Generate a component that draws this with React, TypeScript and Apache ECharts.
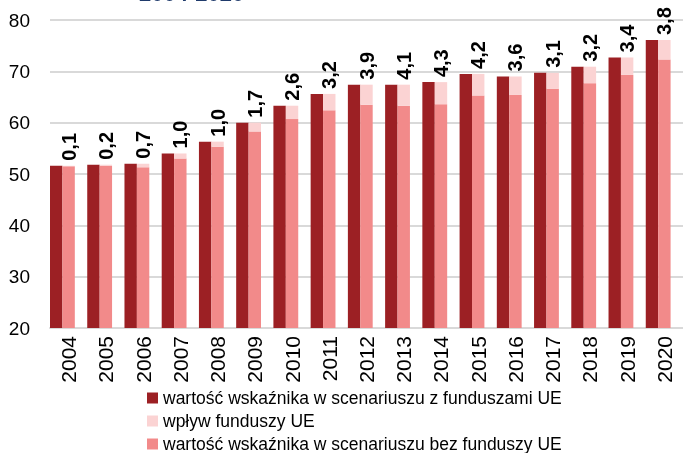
import React, { useEffect, useRef } from "react";
import * as echarts from "echarts";

const years = ["2004","2005","2006","2007","2008","2009","2010","2011","2012","2013","2014","2015","2016","2017","2018","2019","2020"];
const withFunds = [51.6, 51.8, 52.0, 54.0, 56.3, 60.0, 63.3, 65.6, 67.4, 67.4, 67.9, 69.5, 69.0, 69.7, 70.9, 72.7, 76.1];
const impact = [0.1, 0.2, 0.7, 1.0, 1.0, 1.7, 2.6, 3.2, 3.9, 4.1, 4.3, 4.2, 3.6, 3.1, 3.2, 3.4, 3.8];
const withoutFunds = withFunds.map((v, i) => +(v - impact[i]).toFixed(1));
const yTicks = { min: 20, max: 80, interval: 10 };

const names = [
  "wartość wskaźnika w scenariuszu z funduszami UE",
  "wpływ funduszy UE",
  "wartość wskaźnika w scenariuszu bez funduszy UE",
];
const colors = { dark: "#9C2024", pale: "#FBD3D3", salmon: "#F28A8A" };
const FONT = "'Liberation Sans Narrow', 'Arial Narrow', 'Liberation Sans', Arial, sans-serif";

const legendTops = [389, 412, 435];

export default function App() {
  const ref = useRef<HTMLDivElement>(null);
  useEffect(() => {
    if (!ref.current) return;
    const chart = echarts.init(ref.current, null, { renderer: "svg" });
    chart.setOption({
      animation: false,
      title: {
        text: "2004-2020",
        left: 139,
        top: -18,
        padding: 0,
        textStyle: { fontFamily: "'Liberation Sans', Arial, sans-serif", fontSize: 22, fontWeight: "bold", color: "#1F3A6B" },
      },
      grid: { left: 50, top: 20, width: 634, height: 308, containLabel: false },
      legend: names.map((n, i) => ({
        orient: "horizontal",
        left: 147,
        top: legendTops[i],
        padding: 0,
        itemWidth: 11,
        itemHeight: 11,
        icon: "rect",
        data: [n],
        textStyle: { fontFamily: FONT, fontSize: 17.5, lineHeight: 18, color: "#000" },
      })),
      xAxis: {
        type: "category",
        data: years,
        axisTick: { show: false },
        axisLine: { lineStyle: { color: "#d9d9d9", width: 2 } },
        axisLabel: { rotate: 90, fontFamily: FONT, fontSize: 21, color: "#000", margin: 8 },
      },
      yAxis: {
        type: "value",
        min: yTicks.min,
        max: yTicks.max,
        interval: yTicks.interval,
        axisLine: { show: false },
        axisTick: { show: false },
        splitLine: { lineStyle: { color: "#d9d9d9", width: 2 } },
        axisLabel: { fontFamily: FONT, fontSize: 19, color: "#000", margin: 20 },
      },
      series: [
        {
          name: names[0],
          type: "bar",
          data: withFunds,
          itemStyle: { color: colors.dark },
          barGap: "0%",
          barCategoryGap: "0%",
        },
        {
          name: names[2],
          type: "bar",
          stack: "s",
          data: withoutFunds,
          itemStyle: { color: colors.salmon },
        },
        {
          name: names[1],
          type: "bar",
          stack: "s",
          data: impact,
          itemStyle: { color: colors.pale },
          label: {
            show: true,
            position: "top",
            rotate: 90,
            align: "left",
            verticalAlign: "middle",
            distance: 5,
            fontFamily: FONT,
            fontSize: 20,
            fontWeight: "bold",
            color: "#000",
            formatter: (p: any) => impact[p.dataIndex].toFixed(1).replace(".", ","),
          },
        },
        {
          name: "spacer",
          type: "bar",
          data: years.map(() => "-"),
          itemStyle: { color: "transparent" },
        },
      ],
    });
    return () => chart.dispose();
  }, []);
  return <div ref={ref} style={{ position: "fixed", left: 0, top: 0, width: 683, height: 453 }} />;
}
